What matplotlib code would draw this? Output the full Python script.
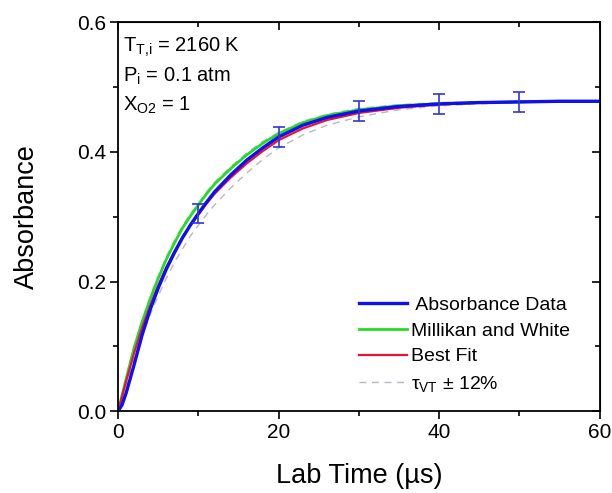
import matplotlib
matplotlib.use("Agg")
import matplotlib.pyplot as plt
from matplotlib.ticker import MultipleLocator, NullFormatter

plt.rcParams['font.family'] = ['Liberation Sans', 'DejaVu Sans']
plt.rcParams['mathtext.fontset'] = 'custom'
plt.rcParams['mathtext.rm'] = 'Liberation Sans'
plt.rcParams['mathtext.it'] = 'Liberation Sans'

# Time axis (µs)
t = [0, 0.5, 1, 2, 3, 4, 5, 6, 7, 8, 9, 10, 11, 12, 14, 16, 18, 20, 23, 26, 30, 35, 40, 45, 50, 55, 60]

absorbance_data = [0, 0.010, 0.028, 0.072, 0.118, 0.157, 0.190, 0.219, 0.244, 0.267, 0.287,
                   0.305, 0.322, 0.338, 0.364, 0.387, 0.406, 0.423, 0.441, 0.453, 0.463,
                   0.470, 0.474, 0.476, 0.477, 0.478, 0.478]
millikan_white = [0, 0.025, 0.050, 0.098, 0.138, 0.173, 0.205, 0.234, 0.259, 0.282, 0.301,
                  0.318, 0.335, 0.350, 0.374, 0.395, 0.413, 0.428, 0.445, 0.456, 0.465,
                  0.471, 0.474, 0.476, 0.477, 0.478, 0.478]
best_fit = [0, 0.023, 0.046, 0.090, 0.129, 0.163, 0.194, 0.222, 0.246, 0.268, 0.287,
            0.303, 0.320, 0.335, 0.360, 0.382, 0.401, 0.418, 0.436, 0.449, 0.460,
            0.468, 0.473, 0.476, 0.477, 0.478, 0.478]
tau_plus = [0, 0.020, 0.041, 0.081, 0.117, 0.149, 0.178, 0.205, 0.229, 0.250, 0.270,
            0.287, 0.303, 0.318, 0.344, 0.367, 0.388, 0.406, 0.426, 0.441, 0.454,
            0.465, 0.471, 0.474, 0.476, 0.477, 0.478]
tau_minus = [0, 0.026, 0.052, 0.100, 0.141, 0.177, 0.209, 0.238, 0.263, 0.285, 0.304,
             0.321, 0.338, 0.353, 0.377, 0.398, 0.416, 0.430, 0.447, 0.458, 0.467,
             0.473, 0.476, 0.477, 0.478, 0.478, 0.478]

err_t = [10, 20, 30, 40, 50]
err_y = [0.305, 0.423, 0.463, 0.474, 0.477]
err_size = [0.014, 0.016, 0.015, 0.015, 0.015]

x_ticks = [0, 20, 40, 60]
y_ticks = [0.0, 0.2, 0.4, 0.6]

fig = plt.figure(figsize=(6.12, 4.93), dpi=100)
ax = fig.add_axes([0.193, 0.166, 0.787, 0.789])

ax.plot(t, tau_plus, color='#b8b8c4', ls=(0, (5, 4)), lw=1.0)
ax.plot(t, tau_minus, color='#b8b8c4', ls=(0, (5, 4)), lw=1.0, label=r'$\tau_{\rm VT}$ ± 12%')
ax.plot(t, millikan_white, color='#22dd22', lw=2.0, label='Millikan and White')
ax.plot(t, best_fit, color='#ee1133', lw=1.6, label='Best Fit')
ax.plot(t, absorbance_data, color='#1010ee', lw=2.4, label=' Absorbance Data')
ax.errorbar(err_t, err_y, yerr=err_size, fmt='none', ecolor='#3333dd', elinewidth=1.2,
            capsize=4, capthick=1.2)

ax.set_xlim(0, 60)
ax.set_ylim(0, 0.6)
ax.set_xticks(x_ticks)
ax.set_xticklabels([f'{v:g}' for v in x_ticks])
ax.set_yticks(y_ticks)
ax.set_yticklabels([f'{v:.1f}' for v in y_ticks])
ax.xaxis.set_minor_locator(MultipleLocator(10))
ax.yaxis.set_minor_locator(MultipleLocator(0.1))
ax.tick_params(which='both', direction='out', labelsize=15, width=1.2)
ax.tick_params(which='major', length=5.5, pad=3)
ax.tick_params(which='minor', length=3.5)
for s in ax.spines.values():
    s.set_linewidth(1.3)

# top / right inward ticks
axt = ax.secondary_xaxis('top')
axt.set_xticks(x_ticks)
axt.xaxis.set_minor_locator(MultipleLocator(10))
axt.tick_params(which='both', direction='in', labeltop=False, width=1.2)
axt.tick_params(which='major', length=5.5)
axt.tick_params(which='minor', length=3.5)
axt.xaxis.set_major_formatter(NullFormatter())
axr = ax.secondary_yaxis('right')
axr.set_yticks(y_ticks)
axr.yaxis.set_minor_locator(MultipleLocator(0.1))
axr.tick_params(which='both', direction='in', labelright=False, width=1.2)
axr.tick_params(which='major', length=5.5)
axr.tick_params(which='minor', length=3.5)
axr.yaxis.set_major_formatter(NullFormatter())

ax.set_xlabel('Lab Time (µs)', fontsize=19.5, labelpad=15)
ax.set_ylabel('Absorbance', fontsize=19.5, labelpad=27)

ax.text(0.011, 0.925, r'T$_{\mathrm{T{,}i}}$ = 2160 K', transform=ax.transAxes, fontsize=14.5, va='baseline')
ax.text(0.011, 0.848, r'P$_{\rm i}$ = 0.1 atm', transform=ax.transAxes, fontsize=14.5, va='baseline')
ax.text(0.011, 0.773, r'X$_{\rm O2}$ = 1', transform=ax.transAxes, fontsize=14.5, va='baseline')

h, l = ax.get_legend_handles_labels()
order = [3, 1, 2, 0]
ax.legend([h[i] for i in order], [l[i] for i in order], loc='lower right',
          bbox_to_anchor=(0.975, 0.0), frameon=False, fontsize=14, handlelength=2.5,
          handletextpad=0.2, labelspacing=0.42)

fig.savefig('out.png', dpi=100)
